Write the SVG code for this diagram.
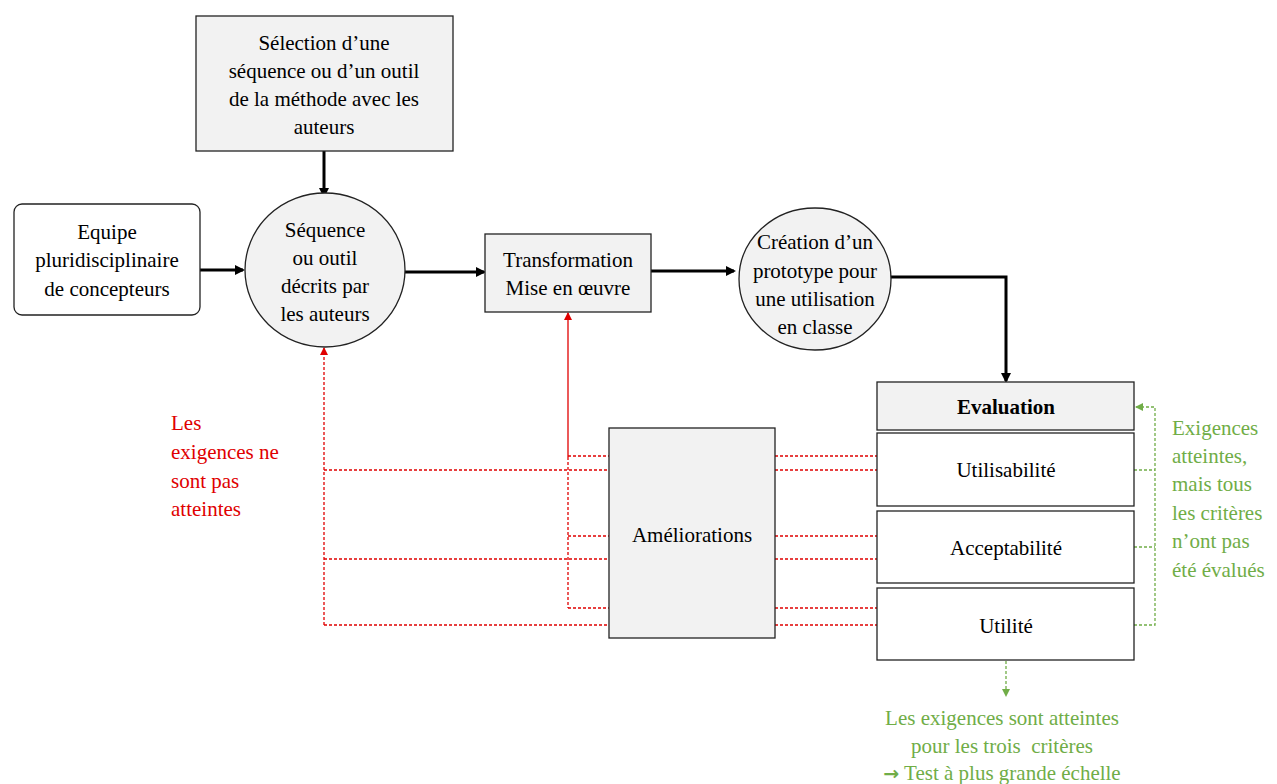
<svg xmlns="http://www.w3.org/2000/svg" width="1277" height="784" viewBox="0 0 1277 784" font-family="'Times New Roman', Times, 'Liberation Serif', Tinos, 'DejaVu Serif', 'Noto Serif', serif" font-size="21">
<style>
.c{text-anchor:middle}
.red{fill:#e00000}
.grn{fill:#70ad47}
.box{fill:#f2f2f2;stroke:#222;stroke-width:1.3}
.wbox{fill:#fff;stroke:#222;stroke-width:1.3}
.blk{fill:none;stroke:#000;stroke-width:3}
.rd{fill:none;stroke:#e00000;stroke-width:1.3;stroke-dasharray:3 2}
.rs{fill:none;stroke:#e00000;stroke-width:1.3}
.gd{fill:none;stroke:#70ad47;stroke-width:1.3;stroke-dasharray:3 2}
</style>
<defs>
<marker id="ab" markerWidth="10" markerHeight="10" refX="8" refY="5" orient="auto" markerUnits="userSpaceOnUse"><path d="M0,0 L10,5 L0,10 z" fill="#000"/></marker>
<marker id="ar" markerWidth="8" markerHeight="8" refX="7" refY="4" orient="auto" markerUnits="userSpaceOnUse"><path d="M0,0 L8,4 L0,8 z" fill="#e00000"/></marker>
<marker id="ag" markerWidth="8" markerHeight="8" refX="7" refY="4" orient="auto" markerUnits="userSpaceOnUse"><path d="M0,0 L8,4 L0,8 z" fill="#70ad47"/></marker>
</defs>
<rect width="1277" height="784" fill="#fff"/>
<g id="connectors">
<path class="blk" d="M324,151 V196" marker-end="url(#ab)"/>
<path class="blk" d="M200,270 H243" marker-end="url(#ab)"/>
<path class="blk" d="M405,272 H484" marker-end="url(#ab)"/>
<path class="blk" d="M651,271 H734" marker-end="url(#ab)"/>
<path class="blk" d="M890,277 H1006 V381" marker-end="url(#ab)"/>
<path class="rs" d="M568,457 V313" marker-end="url(#ar)"/>
<path class="rd" d="M568,457 V608"/>
<path class="rd" d="M324,625 V348" marker-end="url(#ar)"/>
<path class="rd" d="M568,456 H609 M324,470 H609 M568,536 H609 M324,559 H609 M568,608 H609 M324,625 H609"/>
<path class="rd" d="M775,456 H877 M775,470 H877 M775,536 H877 M775,559 H877 M775,608 H877 M775,625 H877"/>
<path class="gd" d="M1134,470 H1155 M1134,547 H1155 M1134,625 H1155 V407 H1136" marker-end="url(#ag)"/>
<path class="gd" d="M1006,661 V696" marker-end="url(#ag)"/>
</g>
<g id="selection">
<rect class="box" x="196" y="16" width="257" height="135"/>
<text class="c" x="324" y="50">Sélection d’une</text>
<text class="c" x="324" y="78">séquence ou d’un outil</text>
<text class="c" x="324" y="106">de la méthode avec les</text>
<text class="c" x="324" y="134">auteurs</text>
</g>
<g id="equipe">
<rect class="wbox" x="14" y="204" width="186" height="111" rx="8"/>
<text class="c" x="107" y="239">Equipe</text>
<text class="c" x="107" y="267">pluridisciplinaire</text>
<text class="c" x="107" y="296">de concepteurs</text>
</g>
<g id="sequence">
<ellipse class="box" cx="325" cy="270" rx="80" ry="77"/>
<text class="c" x="325" y="237">Séquence</text>
<text class="c" x="325" y="265">ou outil</text>
<text class="c" x="325" y="293">décrits par</text>
<text class="c" x="325" y="321">les auteurs</text>
</g>
<g id="transformation">
<rect class="box" x="485" y="234" width="166" height="78"/>
<text class="c" x="568" y="267">Transformation</text>
<text class="c" x="568" y="295">Mise en œuvre</text>
</g>
<g id="creation">
<ellipse class="box" cx="815" cy="279" rx="76" ry="71"/>
<text class="c" x="815" y="249">Création d’un</text>
<text class="c" x="815" y="278">prototype pour</text>
<text class="c" x="815" y="306">une utilisation</text>
<text class="c" x="815" y="334">en classe</text>
</g>
<g id="evaluation">
<rect class="box" x="877" y="382" width="257" height="48"/>
<text class="c" x="1006" y="414" font-weight="bold">Evaluation</text>
</g>
<g id="utilisabilite">
<rect class="wbox" x="877" y="433" width="257" height="73"/>
<text class="c" x="1006" y="477">Utilisabilité</text>
</g>
<g id="acceptabilite">
<rect class="wbox" x="877" y="511" width="257" height="72"/>
<text class="c" x="1006" y="555">Acceptabilité</text>
</g>
<g id="utilite">
<rect class="wbox" x="877" y="588" width="257" height="72"/>
<text class="c" x="1006" y="633">Utilité</text>
</g>
<g id="ameliorations">
<rect class="box" x="609" y="428" width="166" height="210"/>
<text class="c" x="692" y="542">Améliorations</text>
</g>
<g id="label-red">
<text class="red" x="171" y="430">Les</text>
<text class="red" x="171" y="459">exigences ne</text>
<text class="red" x="171" y="488">sont pas</text>
<text class="red" x="171" y="516">atteintes</text>
</g>
<g id="label-green">
<text class="grn" x="1172" y="435">Exigences</text>
<text class="grn" x="1172" y="463">atteintes,</text>
<text class="grn" x="1172" y="491">mais tous</text>
<text class="grn" x="1172" y="520">les critères</text>
<text class="grn" x="1172" y="548">n’ont pas</text>
<text class="grn" x="1172" y="577">été évalués</text>
</g>
<g id="label-bottom">
<text class="grn c" x="1002" y="725">Les exigences sont atteintes</text>
<text class="grn c" x="1002" y="753" xml:space="preserve">pour les trois  critères</text>
<text class="grn c" x="1002" y="780"><tspan font-family="'DejaVu Sans', sans-serif" font-weight="bold" font-size="19">→</tspan> Test à plus grande échelle</text>
</g>
</svg>
